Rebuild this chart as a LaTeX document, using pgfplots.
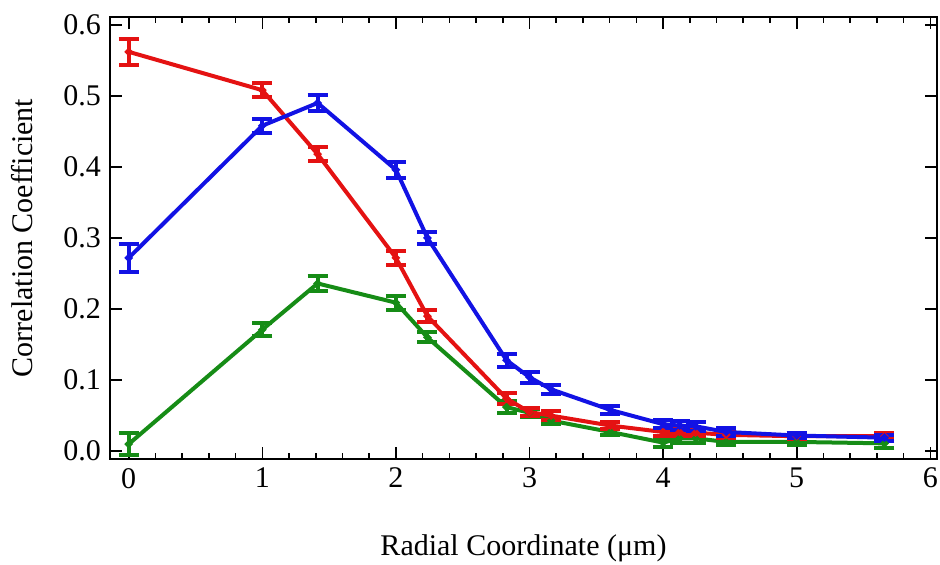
\documentclass[border=0pt]{standalone}
\usepackage{pgfplots}
\pgfplotsset{compat=1.18}
\usepackage{fontspec}
\setmainfont{Liberation Serif}
\definecolor{myred}{RGB}{228,18,18}
\definecolor{myblue}{RGB}{18,18,228}
\definecolor{mygreen}{RGB}{22,140,22}
\begin{document}
\begin{tikzpicture}
\begin{axis}[
  scale only axis,
  width=413.5pt, height=221pt,
  xmin=-0.14, xmax=6.05,
  ymin=-0.011, ymax=0.611,
  xtick={0,1,2,3,4,5,6},
  ytick={0,0.1,0.2,0.3,0.4,0.5,0.6},
  minor x tick num=4,
  tick align=inside,
  major tick length=6pt,
  minor tick length=3pt,
  axis line style={line width=0.9pt},
  every tick/.style={line width=0.8pt, black},
  /pgf/number format/assume math mode=true,
  y tick label style={xshift=-1pt},
  x tick label style={yshift=-1pt},
  yticklabel={\pgfmathprintnumber[fixed, fixed zerofill, precision=1]{\tick}},
  tick label style={font=\fontsize{15}{17}\selectfont},
  label style={font=\fontsize{15}{17}\selectfont},
  xlabel={Radial Coordinate (μm)},
  ylabel={Correlation Coefficient},
  xlabel style={at={(axis description cs:0.5,-0.2014)}, anchor=center},
  ylabel style={at={(axis description cs:-0.1064,0.5)}, anchor=center},
  every axis plot/.append style={line width=2pt},
  error bars/error bar style={line width=2pt},
  error bars/error mark options={rotate=90, mark size=5pt, line width=2pt},
]
\addplot[mygreen, mark=*, mark size=0.8pt, error bars/.cd, y dir=both, y explicit] table[x=x, y=y, y error=e] {
x y e
0 0.010 0.016
1 0.171 0.009
1.414 0.236 0.010
2 0.209 0.010
2.236 0.160 0.007
2.828 0.062 0.008
3 0.054 0.006
3.162 0.043 0.005
3.606 0.027 0.004
4 0.012 0.006
4.123 0.018 0.006
4.243 0.018 0.006
4.472 0.013 0.004
5 0.013 0.004
5.657 0.011 0.006
};
\addplot[myred, mark=*, mark size=0.8pt, error bars/.cd, y dir=both, y explicit] table[x=x, y=y, y error=e] {
x y e
0 0.562 0.018
1 0.508 0.010
1.414 0.418 0.010
2 0.272 0.010
2.236 0.190 0.008
2.828 0.074 0.008
3 0.055 0.006
3.162 0.050 0.006
3.606 0.036 0.005
4 0.027 0.005
4.123 0.027 0.005
4.243 0.026 0.005
4.472 0.023 0.004
5 0.021 0.004
5.657 0.021 0.004
};
\addplot[myblue, mark=*, mark size=0.8pt, error bars/.cd, y dir=both, y explicit] table[x=x, y=y, y error=e] {
x y e
0 0.272 0.020
1 0.458 0.010
1.414 0.490 0.011
2 0.396 0.011
2.236 0.300 0.009
2.828 0.128 0.009
3 0.104 0.008
3.162 0.087 0.006
3.606 0.058 0.005
4 0.038 0.006
4.123 0.036 0.006
4.243 0.035 0.006
4.472 0.027 0.005
5 0.022 0.004
5.657 0.019 0.004
};
\end{axis}
\pgfresetboundingbox
\useasboundingbox ([shift={(-55pt,-53pt)}]current axis.south west) rectangle ([shift={(1.5pt,8.5pt)}]current axis.north east);
\end{tikzpicture}
\end{document}
